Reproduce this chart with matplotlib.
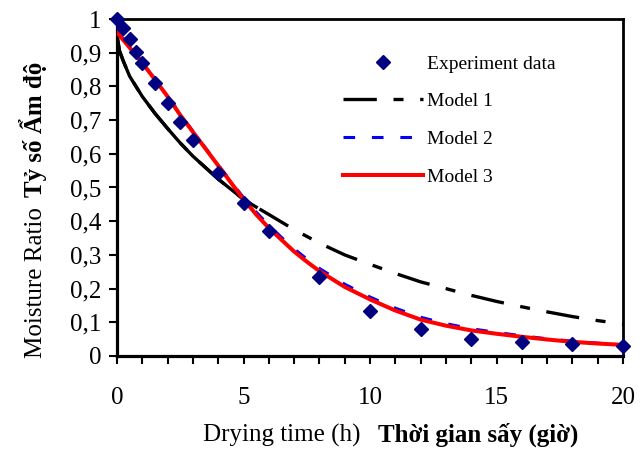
import numpy as np
import matplotlib
matplotlib.use("Agg")
import matplotlib.pyplot as plt
from matplotlib.ticker import MultipleLocator, FuncFormatter

plt.rcParams['font.family'] = ['Liberation Serif', 'DejaVu Serif']

# Experiment data
exp_t = [0, 0.25, 0.5, 0.75, 1.0, 1.5, 2.0, 2.5, 3.0, 4.0, 5.0, 6.0, 8, 10, 12, 14, 16, 18, 20]
exp_mr = [1.0, 0.972, 0.94, 0.903, 0.87, 0.81, 0.752, 0.695, 0.64, 0.542, 0.453, 0.372,
          0.235, 0.134, 0.08, 0.051, 0.042, 0.035, 0.031]

# Model 1
m1_t = [0, 0.1, 0.25, 0.5, 1, 1.5, 2, 2.5, 3, 4, 5, 5.5, 6, 7, 8, 9, 10, 11, 12, 13, 14,
        15, 16, 17, 18, 19, 20]
m1_mr = [0.95, 0.905, 0.875, 0.83, 0.77, 0.72, 0.675, 0.632, 0.593, 0.525, 0.465, 0.442,
         0.42, 0.375, 0.335, 0.30, 0.272, 0.245, 0.22, 0.2, 0.18, 0.162, 0.146, 0.131,
         0.117, 0.105, 0.095]

# Model 2 and Model 3
m_t = [0, 0.5, 1, 1.5, 2, 2.5, 3, 3.5, 4, 4.5, 5, 5.5, 6, 6.5, 7, 7.5, 8, 9, 10, 11, 12,
       13, 14, 15, 16, 17, 18, 19, 20]
m2_mr = [0.965, 0.918, 0.872, 0.822, 0.772, 0.717, 0.667, 0.617, 0.567, 0.518, 0.47, 0.427,
         0.388, 0.352, 0.318, 0.288, 0.26, 0.213, 0.175, 0.142, 0.115, 0.096, 0.081, 0.07,
         0.06, 0.051, 0.044, 0.038, 0.033]
m3_mr = [0.96, 0.915, 0.87, 0.82, 0.77, 0.715, 0.665, 0.615, 0.565, 0.515, 0.465, 0.42,
         0.38, 0.345, 0.31, 0.28, 0.252, 0.205, 0.168, 0.135, 0.108, 0.09, 0.076, 0.066,
         0.057, 0.049, 0.042, 0.037, 0.033]

W, H = 641, 450
fig = plt.figure(figsize=(W / 100, H / 100), dpi=100)
ax = fig.add_axes([117 / W, 1 - 356 / H, (623 - 117) / W, (356 - 19) / H])

# model 1: dense early part looks solid in the original
n_solid = m1_t.index(5.5) + 1
ax.plot(m1_t[:n_solid], m1_mr[:n_solid], color='black', lw=2.4, zorder=2)
ax.plot(m1_t, m1_mr, color='black', lw=2.4, dashes=(10, 5, 3, 5), label='Model 1', zorder=2)
ax.plot(m_t, m2_mr, color='#0000ff', lw=2.2, dashes=(3.8, 5.5), label='Model 2', zorder=3)
ax.plot(m_t, m3_mr, color='#ff0000', lw=2.9, label='Model 3', zorder=4)
ax.plot(exp_t, exp_mr, ls='none', marker='D', ms=7.5, color='#000080',
        label='Experiment data', zorder=5, clip_on=False)

ax.set_xlim(0, 20)
ax.set_ylim(0, 1)
ax.xaxis.set_major_locator(MultipleLocator(5))
ax.xaxis.set_minor_locator(MultipleLocator(1))
ax.yaxis.set_major_locator(MultipleLocator(0.1))
ax.yaxis.set_major_formatter(FuncFormatter(lambda v, p: ('%g' % round(v, 1)).replace('.', ',')))

for s in ['left', 'bottom']:
    ax.spines[s].set_linewidth(2.3)
for s in ['top', 'right']:
    ax.spines[s].set_linewidth(2.0)
ax.tick_params(axis='both', which='both', direction='out', length=6, width=1.5,
               labelsize=18)
ax.tick_params(axis='x', which='both', pad=16)
ax.tick_params(axis='y', pad=5)

handles, labels = ax.get_legend_handles_labels()
order = [3, 0, 1, 2]
leg = ax.legend([handles[i] for i in order], [labels[i] for i in order],
                loc='upper left', bbox_to_anchor=(343 / W, 1 - 55 / H),
                bbox_transform=fig.transFigure, frameon=False, fontsize=14,
                handlelength=4.1, handletextpad=0.2, labelspacing=1.03,
                borderpad=0, borderaxespad=0)

# axis titles, English regular + Vietnamese bold
fig.text(203 / W, 1 - 442 / H, 'Drying time (h)', fontsize=18, ha='left', va='baseline')
fig.text(378 / W, 1 - 442 / H, 'Thời gian sấy (giờ)', fontsize=18, fontweight='bold',
         ha='left', va='baseline')
fig.text(42 / W, 1 - 358 / H, 'Moisture Ratio', fontsize=18, rotation=90,
         rotation_mode='anchor', ha='left', va='baseline')
fig.text(42 / W, 1 - 197 / H, 'Tỷ số Ẩm độ', fontsize=18, fontweight='bold', rotation=90,
         rotation_mode='anchor', ha='left', va='baseline')

fig.savefig('out.png', dpi=100)
